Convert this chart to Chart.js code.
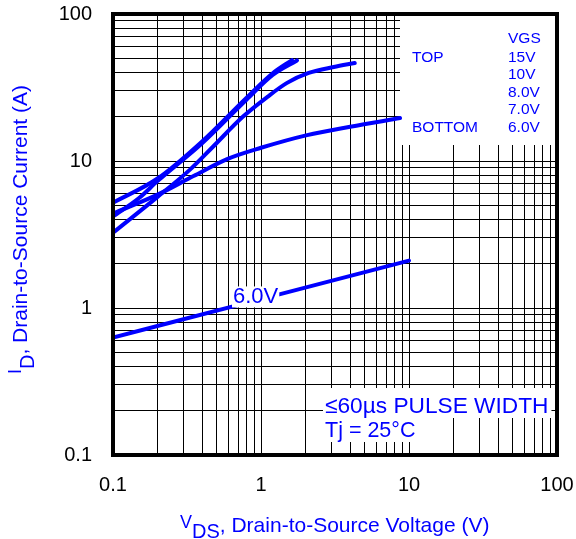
<!DOCTYPE html>
<html>
<head>
<meta charset="utf-8">
<script src="https://cdn.jsdelivr.net/npm/chart.js@4.4.0/dist/chart.umd.min.js"></script>
<style>
  body { margin: 0; background: #fff; }
  canvas { display: block; }
</style>
</head>
<body>
<canvas id="outputChart" width="576" height="539"></canvas>
<script>
// Typical output characteristics, ID vs VDS, one curve per gate voltage
var vgsLabels = ['15V', '10V', '8.0V', '7.0V', '6.0V'];

var vds15 = [0.1, 0.2, 0.4, 0.8, 1.2, 1.62];
var id15  = [5.2, 7.6, 13.6, 27.0, 39.5, 48.6];

var vds10 = [0.1, 0.15, 0.2, 0.4, 0.8, 1.2, 1.75];
var id10  = [4.2, 5.6, 7.3, 13.2, 26.2, 38.5, 48.3];

var vds8 = [0.1, 0.2, 0.33, 0.47, 0.75, 1.1, 1.5, 2.1, 3.1, 4.3];
var id8  = [3.25, 5.7, 8.7, 12.4, 19.9, 27.2, 34.0, 39.7, 43.6, 46.4];

var vds7 = [0.1, 0.2, 0.35, 0.59, 1.0, 2.05, 4.0, 8.7];
var id7  = [4.4, 5.9, 7.9, 10.3, 12.3, 15.0, 17.1, 19.6];

var vds6 = [0.1, 1, 10];
var id6  = [0.63, 1.15, 2.1];

var xTickLabels = ['0.1', '1', '10', '100'];
var yTickLabels = ['0.1', '1', '10', '100'];
var minorSteps = [1, 2, 3, 4, 5, 6, 7, 8, 9];

var legendHeads = ['TOP', 'BOTTOM'];
var noteLines = ['\u226460\u00b5s PULSE WIDTH', 'Tj = 25\u00b0C'];

var BLUE = '#0000ff';
var FONT = '"Liberation Sans", Arial, sans-serif';

function pairs(xs, ys) {
  return xs.map(function (x, i) { return { x: x, y: ys[i] }; });
}

// every 1..9 step of each decade, plus the last decade
function decadeTicks(labels) {
  var ticks = [];
  for (var i = 0; i < labels.length; i++) {
    var base = parseFloat(labels[i]);
    if (i == labels.length - 1) { ticks.push(base); break; }
    minorSteps.forEach(function (m) { ticks.push(base * m); });
  }
  return ticks;
}

function decadeLabel(labels) {
  return function (value) {
    for (var i = 0; i < labels.length; i++) {
      if (Math.abs(value / parseFloat(labels[i]) - 1) < 1e-6) return labels[i];
    }
    return '';
  };
}

function curve(label, xs, ys) {
  return {
    label: label,
    data: pairs(xs, ys),
    borderColor: BLUE,
    borderWidth: 4,
    borderCapStyle: 'round',
    borderJoinStyle: 'round',
    pointRadius: 0,
    cubicInterpolationMode: 'monotone',
    fill: false
  };
}

// draws text pieces one after another, each with its own size and baseline shift
function drawParts(ctx, parts) {
  var x = 0;
  parts.forEach(function (p) {
    ctx.font = p.size + 'px ' + FONT;
    ctx.fillText(p.t, x, p.dy);
    x += ctx.measureText(p.t).width;
  });
}

var annotate = {
  id: 'annotate',
  beforeDatasetsDraw: function (chart) {
    var ctx = chart.ctx, a = chart.chartArea;
    ctx.save();
    // VGS key in the top right corner
    ctx.fillStyle = '#fff';
    ctx.fillRect(a.right - 157, a.top, 157, 131);
    ctx.fillStyle = BLUE;
    ctx.font = '15.5px ' + FONT;
    ctx.textBaseline = 'alphabetic';
    ctx.fillText('VGS', a.right - 49, a.top + 29);
    var rows = [48, 65, 83, 100, 118];
    vgsLabels.forEach(function (v, i) {
      ctx.fillText(v, a.right - 49, a.top + rows[i]);
    });
    ctx.fillText(legendHeads[0], a.right - 145, a.top + rows[0]);
    ctx.fillText(legendHeads[1], a.right - 145, a.top + rows[4]);

    // pulse note, each line on its own white strip
    ctx.font = '22.7px ' + FONT;
    var w1 = ctx.measureText(noteLines[0]).width;
    ctx.fillStyle = '#fff';
    ctx.fillRect(a.right - 234, a.bottom - 67, w1 + 5, 30);
    ctx.fillStyle = BLUE;
    ctx.fillText(noteLines[0], a.right - 232, a.bottom - 42);
    ctx.font = '21.5px ' + FONT;
    var w2 = ctx.measureText(noteLines[1]).width;
    ctx.fillStyle = '#fff';
    ctx.fillRect(a.right - 234, a.bottom - 37, w2 + 5, 24);
    ctx.fillStyle = BLUE;
    ctx.fillText(noteLines[1], a.right - 232, a.bottom - 18);
    ctx.restore();
  },
  afterDatasetsDraw: function (chart) {
    var ctx = chart.ctx, a = chart.chartArea;
    var xs = chart.scales.x, ys = chart.scales.y;
    ctx.save();
    // label sitting on the 6.0V curve
    var cx = xs.getPixelForValue(0.92), cy = ys.getPixelForValue(1.18);
    ctx.font = '22px ' + FONT;
    var w = ctx.measureText(vgsLabels[4]).width;
    ctx.fillStyle = '#fff';
    ctx.fillRect(cx - w / 2 - 1, cy - 11, w + 2, 21);
    ctx.fillStyle = BLUE;
    ctx.textAlign = 'center';
    ctx.textBaseline = 'middle';
    ctx.fillText(vgsLabels[4], cx, cy);

    // heavy frame
    ctx.strokeStyle = '#000';
    ctx.lineWidth = 4;
    ctx.strokeRect(a.left, a.top, a.right - a.left, a.bottom - a.top);
    ctx.restore();
  },
  afterDraw: function (chart) {
    var ctx = chart.ctx;
    ctx.save();
    ctx.fillStyle = BLUE;
    ctx.textBaseline = 'alphabetic';
    ctx.textAlign = 'left';
    // x title
    ctx.translate(180, 532);
    drawParts(ctx, [
      { t: 'V', size: 18, dy: -4 },
      { t: 'DS', size: 20, dy: 6 },
      { t: ', Drain-to-Source Voltage (V)', size: 21, dy: 0 }
    ]);
    ctx.restore();

    ctx.save();
    ctx.fillStyle = BLUE;
    ctx.textBaseline = 'alphabetic';
    ctx.textAlign = 'left';
    // y title, rotated
    ctx.translate(27, 374);
    ctx.rotate(-Math.PI / 2);
    drawParts(ctx, [
      { t: 'I', size: 18, dy: -6 },
      { t: 'D', size: 20, dy: 7 },
      { t: ', Drain-to-Source Current (A)', size: 21, dy: 0 }
    ]);
    ctx.restore();
  }
};

var ctx1 = document.getElementById('outputChart').getContext('2d');
var outputChart = new Chart(ctx1, {
  type: 'line',
  data: {
    datasets: [
      curve(vgsLabels[0], vds15, id15),
      curve(vgsLabels[1], vds10, id10),
      curve(vgsLabels[2], vds8, id8),
      curve(vgsLabels[3], vds7, id7),
      curve(vgsLabels[4], vds6, id6)
    ]
  },
  options: {
    responsive: false,
    animation: false,
    layout: { padding: { top: 14, right: 19, left: 0, bottom: 0 } },
    plugins: {
      legend: { display: false },
      title: { display: false },
      tooltip: { enabled: false }
    },
    scales: {
      x: {
        type: 'logarithmic',
        min: 0.1,
        max: 100,
        afterBuildTicks: function (s) {
          s.ticks = decadeTicks(xTickLabels).map(function (v) { return { value: v }; });
        },
        afterFit: function (s) {
          s.height = 84;
          s.paddingLeft = 0;
          s.paddingRight = 0;
        },
        grid: { color: '#000', lineWidth: 1, drawTicks: false },
        border: { display: false },
        ticks: {
          autoSkip: false,
          maxRotation: 0,
          padding: 18,
          color: '#000',
          font: { family: FONT, size: 20 },
          callback: decadeLabel(xTickLabels)
        }
      },
      y: {
        type: 'logarithmic',
        min: 0.1,
        max: 100,
        afterBuildTicks: function (s) {
          s.ticks = decadeTicks(yTickLabels).map(function (v) { return { value: v }; });
        },
        afterFit: function (s) {
          s.width = 113;
          s.paddingTop = 0;
          s.paddingBottom = 0;
        },
        grid: { color: '#000', lineWidth: 1, drawTicks: false },
        border: { display: false },
        ticks: {
          autoSkip: false,
          padding: 21,
          color: '#000',
          font: { family: FONT, size: 20 },
          callback: decadeLabel(yTickLabels)
        }
      }
    }
  },
  plugins: [annotate]
});
</script>
</body>
</html>
